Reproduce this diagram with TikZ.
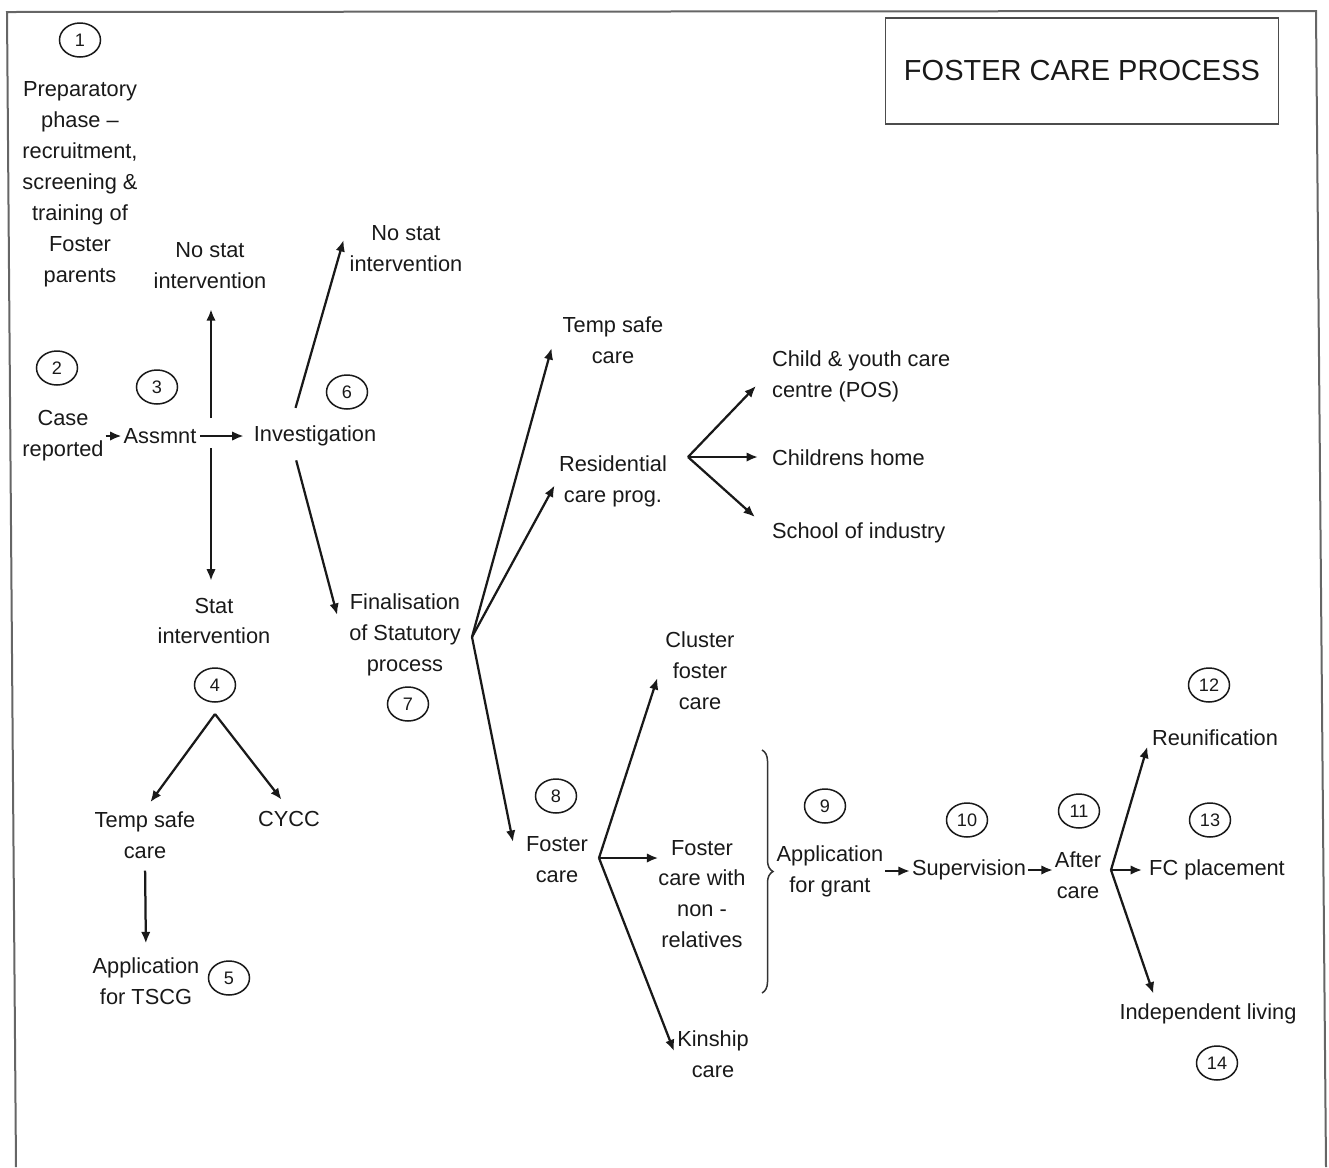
\documentclass[tikz,border=0pt]{standalone}
\usepackage{fontspec}
\setmainfont{Liberation Sans}
\usetikzlibrary{arrows.meta,calc,shapes.geometric,decorations.pathreplacing}
\tikzset{
  lbl/.style={align=center,inner sep=1pt,text=black!90,font=\fontsize{12.4}{17.6}\selectfont},
  num/.style={ellipse,draw=black!90,line width=.3mm,minimum width=8.2mm,minimum height=6.8mm,inner sep=0pt,text=black!90,font=\fontsize{10.3}{12}\selectfont},
  arr/.style={draw=black!90,line width=.45mm,-{Latex[length=2.3mm,width=1.9mm]}}
}
\begin{document}
\begin{tikzpicture}[x=.2mm,y=-.2mm]
\path[use as bounding box] (0,0) rectangle (1329,1167);
\draw[black!60,line width=.4mm] (16,1167) -- (7,12) -- (1316,11) -- (1326,1167);
\node[draw=black!70,line width=.3mm,minimum width=78.6mm,minimum height=21.2mm,text=black!90,font=\fontsize{16.5}{20}\selectfont] (title) at (1082,71) {FOSTER CARE PROCESS};
% text of the steps
\node[lbl] (prep) at (80,184) {Preparatory\\phase –\\recruitment,\\screening \&\\training of\\Foster\\parents};
\node[lbl] (nostat1) at (210,266) {No stat\\intervention};
\node[lbl] (nostat2) at (406,249) {No stat\\intervention};
\node[lbl] (case) at (63,436) {Case\\reported};
\node[lbl] (assmnt) at (160,436) {Assmnt};
\node[lbl] (invest) at (315,436) {Investigation};
\node[lbl] (stat) at (214,621) {Stat\\intervention};
\node[lbl] (final) at (405,635) {Finalisation\\of Statutory\\process};
\node[lbl] (tsafe1) at (613,340) {Temp safe\\care};
\node[lbl] (resid) at (613,481) {Residential\\care prog.};
\node[lbl,align=left,anchor=west] (cycc1) at (770,376) {Child \& youth care\\centre (POS)};
\node[lbl,anchor=west] (chome) at (770,458) {Childrens home};
\node[lbl,anchor=west] (school) at (770,533) {School of industry};
\node[lbl] (tsafe2) at (145,835) {Temp safe\\care};
\node[lbl] (cycc2) at (289,819) {CYCC};
\node[lbl] (tscg) at (146,981) {Application\\for TSCG};
\node[lbl] (cluster) at (700,671) {Cluster\\foster\\care};
\node[lbl] (foster) at (557,860) {Foster\\care};
\node[lbl] (nonrel) at (702,894) {Foster\\care with\\non -\\relatives};
\node[lbl] (kin) at (713,1054) {Kinship\\care};
\node[lbl] (grant) at (830,871) {Application\\for grant};
\node[lbl] (superv) at (969,870) {Supervision};
\node[lbl] (after) at (1078,875) {After\\care};
\node[lbl] (reunif) at (1215,738) {Reunification};
\node[lbl] (fcplace) at (1217,870) {FC placement};
\node[lbl] (indep) at (1208,1014) {Independent living};
% step numbers
\foreach \n/\x/\y in {1/80/40,2/57/368,3/157/387,4/215/685,5/229/978,6/347/392,7/408/704,8/556/796,9/825/806,10/967/820,11/1079/811,12/1209/685,13/1210/820,14/1217/1063}
  \node[num] (n\n) at (\x,\y) {\n};
% branch points
\coordinate (hub) at (211,434);
\coordinate (fork4) at (215,714);
\coordinate (fork7) at (472,637);
\coordinate (forkres) at (688,457);
\coordinate (fork8) at (599,858);
\coordinate (fork11) at (1111,870);
% arrows
\draw[arr] (case.east) -- (assmnt.west);
\draw[arr,shorten <=.4mm,shorten >=1.6mm] (assmnt.east) -- (invest.west);
\draw[arr,shorten <=3.2mm,shorten >=3.6mm] (hub) -- (hub |- nostat1.south);
\draw[arr,shorten <=2.8mm,shorten >=3mm] (hub) -- (hub |- stat.north);
\draw[arr,shorten <=3.3mm] ($(invest.north)+(-24,0)$) -- ($(nostat2.west)+(-4,-9)$);
\draw[arr,shorten <=2.5mm] ($(invest.south)+(-22,0)$) -- ($(final.west)+(-10,-20)$);
\draw[arr] (fork7) -- ($(tsafe1.west)+(-9,8)$);
\draw[arr,shorten >=1mm] (fork7) -- (resid.west);
\draw[arr] (fork7) -- ($(foster.west)+(-11,-18)$);
\draw[arr] (forkres) -- ($(cycc1.west)+(-14,10)$);
\draw[arr,shorten >=2.4mm] (forkres) -- (forkres -| chome.west);
\draw[arr] (forkres) -- ($(school.west)+(-15,-16)$);
\draw[arr,shorten >=1.8mm] (fork4) -- (tsafe2.north);
\draw[arr,shorten >=2.4mm] (fork4) -- (cycc2.north);
\draw[arr,shorten <=2mm,shorten >=2.4mm] (tsafe2.south) -- (tscg.north);
\draw[arr] (fork8) -- ($(cluster.west)+(-6,7)$);
\draw[arr] (fork8) -- ($(nonrel.west)+(2,-36)$);
\draw[arr,shorten >=.6mm] (fork8) -- (kin.west);
\draw[black!80,line width=.3mm,decorate,decoration={brace,amplitude=2.2mm}] (762,750) -- (762,993);
\draw[arr] (grant.east) -- (grant.east -| superv.west);
\draw[arr] (superv.east) -- (superv.east -| after.west);
\draw[arr,shorten >=1.8mm] (fork11) -- (reunif.west);
\draw[arr,shorten >=1mm] (fork11) -- (fork11 -| fcplace.west);
\draw[arr] (fork11) -- ($(indep.north west)+(36,-8)$);
\end{tikzpicture}
\end{document}
